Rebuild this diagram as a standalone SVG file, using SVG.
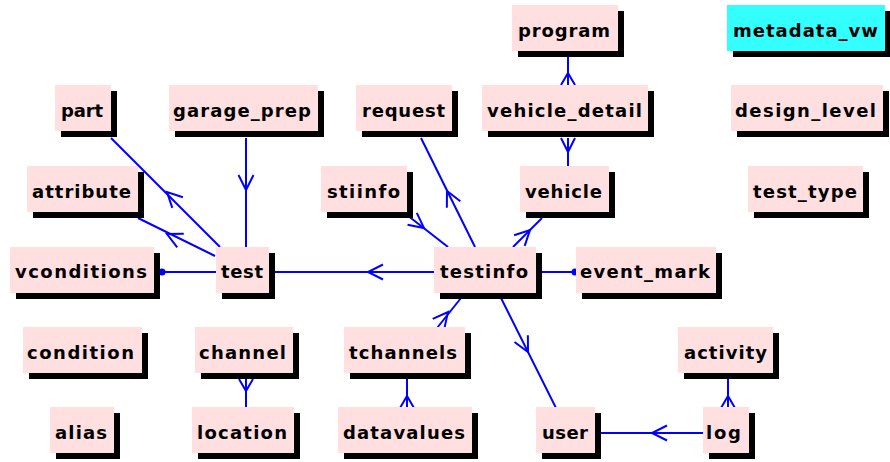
<svg xmlns="http://www.w3.org/2000/svg" xmlns:xlink="http://www.w3.org/1999/xlink" width="890" height="462" viewBox="0 0 890 462">
<style>
.sh{fill:#000}
.bx{fill:#ffdfdf}
.cy{fill:#33ffff}
.t{font-family:"DejaVu Sans","Liberation Sans",sans-serif;font-weight:bold;font-size:18px;fill:#000}
.c{stroke:#0000ff;stroke-width:2;fill:none}
.d{fill:#0000ff}
</style>
<defs>
<path id="chev" d="M -15,-7.5 L 0,0 L -15,7.5" class="c"/>
</defs>
<rect width="890" height="462" fill="#fff"/>
<g id="connectors">
<line class="c" x1="111" y1="138" x2="220" y2="247"/>
<use xlink:href="#chev" transform="translate(167,192) rotate(225)"/>
<line class="c" x1="138" y1="218" x2="215" y2="256"/>
<use xlink:href="#chev" transform="translate(167,234) rotate(206)"/>
<line class="c" x1="246" y1="138" x2="246" y2="247"/>
<use xlink:href="#chev" transform="translate(246,190) rotate(90)"/>
<line class="c" x1="160" y1="272" x2="216" y2="272"/>
<circle class="d" cx="162" cy="272" r="3.5"/>
<line class="c" x1="275" y1="272" x2="434" y2="272"/>
<use xlink:href="#chev" transform="translate(368,272) rotate(180)"/>
<line class="c" x1="421" y1="138" x2="475" y2="247"/>
<use xlink:href="#chev" transform="translate(447,191) rotate(244)"/>
<line class="c" x1="407" y1="215" x2="448" y2="247"/>
<use xlink:href="#chev" transform="translate(424,228) rotate(38)"/>
<line class="c" x1="542" y1="218" x2="513" y2="247"/>
<use xlink:href="#chev" transform="translate(530,230) rotate(315)"/>
<line class="c" x1="542" y1="272" x2="576" y2="272"/>
<circle class="d" cx="575" cy="272" r="3.5"/>
<line class="c" x1="461" y1="298" x2="437" y2="328"/>
<use xlink:href="#chev" transform="translate(448,312) rotate(-51)"/>
<line class="c" x1="501" y1="298" x2="556" y2="408"/>
<use xlink:href="#chev" transform="translate(528,352) rotate(63)"/>
<line class="c" x1="601" y1="433" x2="703" y2="433"/>
<use xlink:href="#chev" transform="translate(652,433) rotate(180)"/>
<line class="c" x1="728" y1="379" x2="728" y2="408"/>
<path class="c" d="M 721,408 L 728,396 L 735,408"/>
<line class="c" x1="407" y1="379" x2="407" y2="408"/>
<path class="c" d="M 400,408 L 407,396 L 414,408"/>
<line class="c" x1="246" y1="379" x2="246" y2="407"/>
<path class="c" d="M 239,379 L 246,391 L 253,379"/>
<line class="c" x1="568" y1="57" x2="568" y2="85"/>
<path class="c" d="M 561,85 L 568,73 L 575,85"/>
<line class="c" x1="568" y1="138" x2="568" y2="166"/>
<path class="c" d="M 561,138 L 568,152 L 575,138"/>
</g>
<g id="program"><rect class="sh" x="518" y="11" width="106" height="46"/><rect class="bx" x="512" y="5" width="106" height="46"/><text class="t" x="518" y="37" textLength="92" lengthAdjust="spacing">program</text></g>
<g id="metadata_vw"><rect class="sh" x="733" y="11" width="158" height="46"/><rect class="cy" x="727" y="5" width="158" height="46"/><text class="t" x="733" y="37" textLength="145" lengthAdjust="spacing">metadata_vw</text></g>
<g id="part"><rect class="sh" x="61" y="91" width="56" height="46"/><rect class="bx" x="55" y="85" width="56" height="46"/><text class="t" x="61" y="117" textLength="42" lengthAdjust="spacing">part</text></g>
<g id="garage_prep"><rect class="sh" x="175" y="91" width="149" height="46"/><rect class="bx" x="169" y="85" width="149" height="46"/><text class="t" x="173" y="117" textLength="138" lengthAdjust="spacing">garage_prep</text></g>
<g id="request"><rect class="sh" x="362" y="91" width="96" height="46"/><rect class="bx" x="356" y="85" width="96" height="46"/><text class="t" x="362" y="117" textLength="83" lengthAdjust="spacing">request</text></g>
<g id="vehicle_detail"><rect class="sh" x="488" y="91" width="166" height="46"/><rect class="bx" x="482" y="85" width="166" height="46"/><text class="t" x="487" y="117" textLength="155" lengthAdjust="spacing">vehicle_detail</text></g>
<g id="design_level"><rect class="sh" x="737" y="91" width="152" height="46"/><rect class="bx" x="731" y="85" width="152" height="46"/><text class="t" x="735" y="117" textLength="141" lengthAdjust="spacing">design_level</text></g>
<g id="attribute"><rect class="sh" x="33" y="172" width="111" height="46"/><rect class="bx" x="27" y="166" width="111" height="46"/><text class="t" x="32" y="198" textLength="99" lengthAdjust="spacing">attribute</text></g>
<g id="stiinfo"><rect class="sh" x="327" y="172" width="86" height="46"/><rect class="bx" x="321" y="166" width="86" height="46"/><text class="t" x="327" y="198" textLength="73" lengthAdjust="spacing">stiinfo</text></g>
<g id="vehicle"><rect class="sh" x="526" y="172" width="89" height="46"/><rect class="bx" x="520" y="166" width="89" height="46"/><text class="t" x="525" y="198" textLength="77" lengthAdjust="spacing">vehicle</text></g>
<g id="test_type"><rect class="sh" x="754" y="172" width="115" height="46"/><rect class="bx" x="748" y="166" width="115" height="46"/><text class="t" x="753" y="198" textLength="104" lengthAdjust="spacing">test_type</text></g>
<g id="vconditions"><rect class="sh" x="16" y="253" width="144" height="46"/><rect class="bx" x="10" y="247" width="144" height="46"/><text class="t" x="15" y="278" textLength="132" lengthAdjust="spacing">vconditions</text></g>
<g id="test"><rect class="sh" x="222" y="253" width="53" height="46"/><rect class="bx" x="216" y="247" width="53" height="46"/><text class="t" x="221" y="278" textLength="42" lengthAdjust="spacing">test</text></g>
<g id="testinfo"><rect class="sh" x="440" y="253" width="102" height="46"/><rect class="bx" x="434" y="247" width="102" height="46"/><text class="t" x="440" y="278" textLength="88" lengthAdjust="spacing">testinfo</text></g>
<g id="event_mark"><rect class="sh" x="582" y="253" width="140" height="46"/><rect class="bx" x="576" y="247" width="140" height="46"/><text class="t" x="580" y="278" textLength="130" lengthAdjust="spacing">event_mark</text></g>
<g id="condition"><rect class="sh" x="29" y="333" width="119" height="46"/><rect class="bx" x="23" y="327" width="119" height="46"/><text class="t" x="27" y="359" textLength="107" lengthAdjust="spacing">condition</text></g>
<g id="channel"><rect class="sh" x="201" y="333" width="98" height="46"/><rect class="bx" x="195" y="327" width="98" height="46"/><text class="t" x="199" y="359" textLength="87" lengthAdjust="spacing">channel</text></g>
<g id="tchannels"><rect class="sh" x="350" y="333" width="121" height="46"/><rect class="bx" x="344" y="327" width="121" height="46"/><text class="t" x="349" y="359" textLength="108" lengthAdjust="spacing">tchannels</text></g>
<g id="activity"><rect class="sh" x="684" y="333" width="95" height="46"/><rect class="bx" x="678" y="327" width="95" height="46"/><text class="t" x="684" y="359" textLength="83" lengthAdjust="spacing">activity</text></g>
<g id="alias"><rect class="sh" x="56" y="413" width="64" height="46"/><rect class="bx" x="50" y="407" width="64" height="46"/><text class="t" x="55" y="439" textLength="52" lengthAdjust="spacing">alias</text></g>
<g id="location"><rect class="sh" x="198" y="413" width="102" height="46"/><rect class="bx" x="192" y="407" width="102" height="46"/><text class="t" x="197" y="439" textLength="90" lengthAdjust="spacing">location</text></g>
<g id="datavalues"><rect class="sh" x="344" y="413" width="134" height="46"/><rect class="bx" x="338" y="407" width="134" height="46"/><text class="t" x="343" y="439" textLength="122" lengthAdjust="spacing">datavalues</text></g>
<g id="user"><rect class="sh" x="542" y="413" width="59" height="46"/><rect class="bx" x="536" y="407" width="59" height="46"/><text class="t" x="542" y="439" textLength="46" lengthAdjust="spacing">user</text></g>
<g id="log"><rect class="sh" x="709" y="413" width="46" height="46"/><rect class="bx" x="703" y="407" width="46" height="46"/><text class="t" x="706" y="439" textLength="35" lengthAdjust="spacing">log</text></g>
</svg>
